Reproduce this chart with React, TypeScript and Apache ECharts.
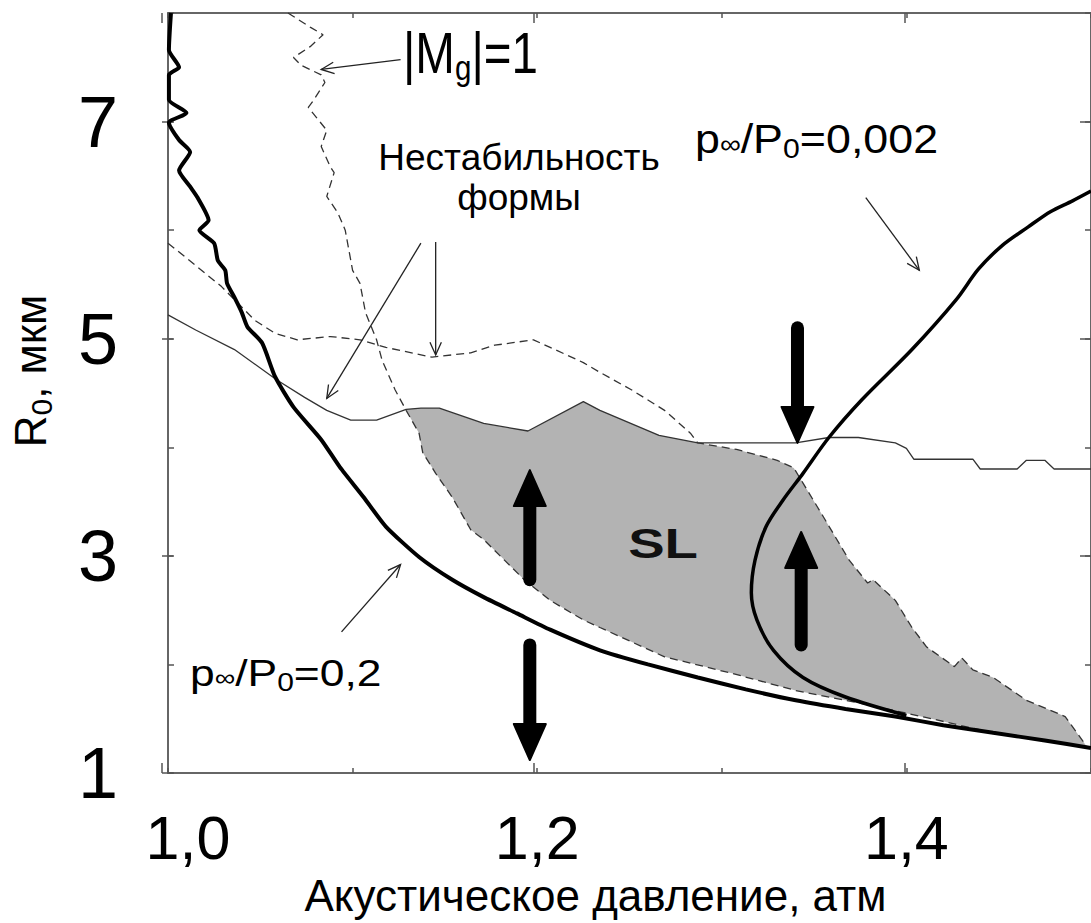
import React, { useEffect, useRef } from "react";
import * as echarts from "echarts";

const FONT = "'Liberation Sans', Arial, Helvetica, sans-serif";

// axis ticks / labels
const xMin = 1.0;
const xMax = 1.5;
const yMin = 1;
const yMax = 8;
const xLabelTicks = [1.0, 1.2, 1.4];
const yLabelTicks = [1, 3, 5, 7];

// p∞/P0 = 0,2 (thick)
const curve02: number[][] = [
  [1.0016, 8.0], [1.0005, 7.66], [1.006, 7.5], [1.0005, 7.43], [1.0005, 7.2], [1.010, 7.08],
  [1.0005, 6.99], [1.006, 6.83], [1.012, 6.72], [1.006, 6.55], [1.012, 6.4], [1.016, 6.3],
  [1.022, 6.09], [1.017, 6.0], [1.025, 5.88], [1.027, 5.72], [1.031, 5.63], [1.032, 5.51],
  [1.036, 5.38], [1.04, 5.24], [1.043, 5.11], [1.051, 4.96], [1.058, 4.65], [1.068, 4.37],
  [1.083, 4.07], [1.093, 3.82], [1.106, 3.54], [1.118, 3.27], [1.136, 2.99], [1.154, 2.78],
  [1.171, 2.62], [1.189, 2.47], [1.207, 2.32], [1.234, 2.13], [1.26, 2.0], [1.287, 1.88],
  [1.313, 1.77], [1.34, 1.67], [1.367, 1.59], [1.394, 1.52], [1.42, 1.44], [1.447, 1.37],
  [1.475, 1.3], [1.5, 1.23],
];

// p∞/P0 = 0,002 (thick, C-shaped)
const curve0002: number[][] = [
  [1.5, 6.36], [1.49, 6.27], [1.478, 6.17], [1.466, 6.03], [1.452, 5.86], [1.439, 5.64],
  [1.427, 5.36], [1.403, 4.9], [1.376, 4.44], [1.358, 4.09], [1.344, 3.76], [1.333, 3.51],
  [1.324, 3.27], [1.318, 2.96], [1.316, 2.66], [1.319, 2.41], [1.328, 2.13], [1.344, 1.88],
  [1.367, 1.7], [1.4, 1.53],
];

// shape instability, thin solid
const instabSolid: number[][] = [
  [1.0, 5.22], [1.015, 5.08], [1.036, 4.9], [1.059, 4.62], [1.074, 4.46], [1.086, 4.34],
  [1.099, 4.25], [1.113, 4.25], [1.129, 4.35], [1.137, 4.36], [1.147, 4.36], [1.171, 4.22],
  [1.195, 4.15], [1.225, 4.42], [1.234, 4.34], [1.266, 4.11], [1.287, 4.04], [1.317, 4.04],
  [1.34, 4.04], [1.358, 4.09], [1.374, 4.09], [1.394, 4.04], [1.4, 3.99], [1.404, 3.89],
  [1.436, 3.89], [1.44, 3.8], [1.46, 3.8], [1.465, 3.88], [1.475, 3.88], [1.48, 3.8], [1.5, 3.8],
];

// shape instability, dashed (left part)
const instabDashed: number[][] = [
  [1.0, 5.88], [1.011, 5.73], [1.029, 5.48], [1.047, 5.17], [1.058, 5.05], [1.07, 4.99],
  [1.088, 5.02], [1.104, 4.99], [1.118, 4.92], [1.143, 4.83], [1.164, 4.87], [1.177, 4.94],
  [1.198, 4.99], [1.207, 4.92], [1.225, 4.78], [1.234, 4.69], [1.251, 4.53], [1.269, 4.34],
  [1.283, 4.13], [1.287, 4.04],
];

// dashed boundary of SL region (right side)
const slRightEdge: number[][] = [
  [1.308, 3.98], [1.33, 3.88], [1.339, 3.81], [1.344, 3.67], [1.355, 3.36], [1.369, 2.96],
  [1.379, 2.75], [1.382, 2.78], [1.394, 2.59], [1.403, 2.34], [1.411, 2.16], [1.426, 1.98],
  [1.43, 2.06], [1.436, 1.95], [1.447, 1.88], [1.465, 1.67], [1.486, 1.52], [1.497, 1.26],
];

// |Mg| = 1 (dashed)
const machOne: number[][] = [
  [1.065, 8.0], [1.077, 7.87], [1.084, 7.8], [1.077, 7.69], [1.068, 7.59], [1.072, 7.52],
  [1.083, 7.43], [1.085, 7.36], [1.079, 7.2], [1.076, 7.13], [1.086, 6.92], [1.083, 6.77],
  [1.088, 6.58], [1.09, 6.53], [1.086, 6.31], [1.092, 6.16], [1.096, 6.0], [1.1, 5.63],
  [1.104, 5.51], [1.107, 5.24], [1.113, 4.99], [1.116, 4.8], [1.123, 4.53], [1.129, 4.34],
  [1.136, 4.13], [1.138, 3.95], [1.145, 3.76], [1.154, 3.54], [1.164, 3.24], [1.171, 3.15],
  [1.193, 2.78], [1.207, 2.59], [1.225, 2.41], [1.234, 2.34], [1.269, 2.07], [1.305, 1.92],
  [1.34, 1.76], [1.376, 1.64], [1.411, 1.51], [1.447, 1.37],
];

// thick arrows: [x, from, to]
const bigArrows: number[][] = [
  [1.196, 2.78, 3.79],
  [1.196, 2.18, 1.12],
  [1.341, 5.1, 4.04],
  [1.343, 2.18, 3.22],
];

// thin pointer arrows: [x1, y1, x2(tip), y2(tip)]
const pointers: number[][] = [
  [1.126, 7.57, 1.083, 7.48],
  [1.137, 5.88, 1.086, 4.45],
  [1.145, 5.89, 1.145, 4.85],
  [1.378, 6.3, 1.407, 5.63],
  [1.094, 2.3, 1.126, 2.92],
];

// SL region polygon, built from the boundary curves
const slTop = instabSolid.filter((p) => p[0] >= 1.129 && p[0] <= 1.287).concat(slRightEdge);
const slBottom = machOne.filter((p) => p[0] >= 1.129).concat(curve02.filter((p) => p[0] > 1.447));
const slPolygon = slTop.concat(slBottom.slice().reverse());

const fmtX = (v: number) => v.toFixed(1).replace(".", ",");

function buildOption(): any {
  const axisLineStyle = { color: "#666", width: 2 };
  const tickStyle = { color: "#555", width: 1.5 };
  const baseX = { type: "value", min: xMin, max: xMax, splitLine: { show: false } };
  const baseY = { type: "value", min: yMin, max: yMax, splitLine: { show: false } };
  return {
    animation: false,
    backgroundColor: "#fff",
    grid: [
      { left: 162, top: 13, right: -8.5, bottom: 150, containLabel: false },
      { left: 162, top: 13, right: -8.5, bottom: 150, containLabel: false },
    ],
    xAxis: [
      {
        ...baseX,
        gridIndex: 0,
        position: "bottom",
        interval: 0.1,
        axisLine: { show: true, lineStyle: axisLineStyle },
        axisTick: { show: true, inside: true, length: 5, lineStyle: tickStyle },
        axisLabel: {
          show: true,
          customValues: xLabelTicks,
          margin: 34,
          color: "#000",
          fontFamily: FONT,
          fontSize: 61,
          formatter: (v: number) =>
            Math.abs(v - xLabelTicks[0]) < 1e-6 ? `{f|${fmtX(v)}}` : `{n|${fmtX(v)}}`,
          rich: {
            f: { fontSize: 61, fontFamily: FONT, color: "#000", padding: [0, 0, 0, 40] },
            n: { fontSize: 61, fontFamily: FONT, color: "#000" },
          },
        },
        name: "Акустическое давление, атм",
        nameLocation: "middle",
        nameGap: 100,
        nameTextStyle: { fontSize: 44, fontFamily: FONT, color: "#000", padding: [0, 68, 0, 0] },
      },
      {
        ...baseX,
        gridIndex: 0,
        position: "top",
        interval: 0.1,
        axisLine: { show: true, lineStyle: axisLineStyle },
        axisTick: { show: true, inside: true, length: 5, lineStyle: tickStyle },
        axisLabel: { show: false },
      },
      {
        ...baseX,
        gridIndex: 1,
        position: "bottom",
        axisLine: { show: false },
        axisTick: { show: true, inside: true, length: 10, customValues: xLabelTicks, lineStyle: tickStyle },
        axisLabel: { show: false },
      },
      {
        ...baseX,
        gridIndex: 1,
        position: "top",
        axisLine: { show: false },
        axisTick: { show: true, inside: true, length: 10, customValues: xLabelTicks, lineStyle: tickStyle },
        axisLabel: { show: false },
      },
    ],
    yAxis: [
      {
        ...baseY,
        gridIndex: 0,
        position: "left",
        interval: 1,
        axisLine: { show: true, lineStyle: axisLineStyle },
        axisTick: { show: true, inside: true, length: 6, lineStyle: tickStyle },
        axisLabel: {
          show: true,
          customValues: yLabelTicks,
          formatter: (v: number) => (yLabelTicks.indexOf(v) >= 0 ? String(v) : ""),
          margin: 50,
          color: "#000",
          fontFamily: FONT,
          fontSize: 72,
        },
        name: "{r|R}{s|0}{r|, мкм}",
        nameLocation: "middle",
        nameRotate: 90,
        nameGap: 112,
        nameTextStyle: {
          padding: [0, 0, 0, 44],
          rich: {
            r: { fontSize: 44, fontFamily: FONT, color: "#000" },
            s: { fontSize: 30, fontFamily: FONT, color: "#000", padding: [22, 0, 0, 0] },
          },
        },
      },
      {
        ...baseY,
        gridIndex: 0,
        position: "right",
        interval: 1,
        axisLine: { show: true, lineStyle: axisLineStyle },
        axisTick: { show: true, inside: true, length: 6, lineStyle: tickStyle },
        axisLabel: { show: false },
      },
      {
        ...baseY,
        gridIndex: 1,
        position: "left",
        axisLine: { show: false },
        axisTick: { show: true, inside: true, length: 11, customValues: yLabelTicks, lineStyle: tickStyle },
        axisLabel: { show: false },
      },
      {
        ...baseY,
        gridIndex: 1,
        position: "right",
        axisLine: { show: false },
        axisTick: { show: true, inside: true, length: 11, customValues: yLabelTicks, lineStyle: tickStyle },
        axisLabel: { show: false },
      },
    ],
    series: [
      {
        name: "SL",
        type: "custom",
        xAxisIndex: 0,
        yAxisIndex: 0,
        z: 1,
        silent: true,
        data: [slPolygon[0]],
        renderItem: (_params: any, api: any) => ({
          type: "polygon",
          shape: { points: slPolygon.map((p) => api.coord(p)) },
          style: { fill: "#b3b3b3", stroke: "none" },
        }),
      },
      {
        name: "p∞/P0=0,2",
        type: "line",
        data: curve02,
        showSymbol: false,
        smooth: 0.2,
        z: 3,
        lineStyle: { color: "#000", width: 4 },
      },
      {
        name: "p∞/P0=0,002",
        type: "line",
        data: curve0002,
        showSymbol: false,
        smooth: 0.3,
        z: 3,
        lineStyle: { color: "#000", width: 3.5 },
      },
      {
        name: "Нестабильность формы (сплошная)",
        type: "line",
        data: instabSolid,
        showSymbol: false,
        z: 2,
        lineStyle: { color: "#333", width: 1.3 },
      },
      {
        name: "Нестабильность формы (штрих)",
        type: "line",
        data: instabDashed.concat(slRightEdge),
        showSymbol: false,
        z: 2,
        lineStyle: { color: "#333", width: 1.3, type: [8, 5] },
      },
      {
        name: "|Mg|=1",
        type: "line",
        data: machOne,
        showSymbol: false,
        z: 2,
        lineStyle: { color: "#333", width: 1.3, type: [8, 5] },
      },
      {
        name: "arrows",
        type: "custom",
        z: 4,
        silent: true,
        data: bigArrows,
        encode: { x: 0, y: [1, 2] },
        renderItem: (_params: any, api: any) => {
          const x = api.value(0);
          const p0 = api.coord([x, api.value(1)]);
          const p1 = api.coord([x, api.value(2)]);
          const dir = p1[1] > p0[1] ? 1 : -1;
          const headLen = 36;
          const headW = 16;
          const baseY = p1[1] - dir * headLen;
          return {
            type: "group",
            children: [
              {
                type: "line",
                shape: { x1: p0[0], y1: p0[1], x2: p1[0], y2: baseY + dir * 4 },
                style: { stroke: "#000", lineWidth: 13, lineCap: "round" },
              },
              {
                type: "polygon",
                shape: { points: [[p1[0] - headW, baseY], [p1[0] + headW, baseY], [p1[0], p1[1]]] },
                style: { fill: "#000", stroke: "#000", lineWidth: 2, lineJoin: "round" },
              },
            ],
          };
        },
      },
      {
        name: "pointers",
        type: "custom",
        z: 4,
        silent: true,
        data: pointers,
        encode: { x: [0, 2], y: [1, 3] },
        renderItem: (_params: any, api: any) => {
          const a = api.coord([api.value(0), api.value(1)]);
          const b = api.coord([api.value(2), api.value(3)]);
          const ang = Math.atan2(b[1] - a[1], b[0] - a[0]);
          const L = 14;
          const spread = 0.42;
          const h1 = [b[0] - L * Math.cos(ang - spread), b[1] - L * Math.sin(ang - spread)];
          const h2 = [b[0] - L * Math.cos(ang + spread), b[1] - L * Math.sin(ang + spread)];
          const st = { stroke: "#222", lineWidth: 1.3, fill: "none" };
          return {
            type: "group",
            children: [
              { type: "line", shape: { x1: a[0], y1: a[1], x2: b[0], y2: b[1] }, style: st },
              { type: "polyline", shape: { points: [h1, b, h2] }, style: st },
            ],
          };
        },
      },
    ],
    graphic: [
      {
        type: "text",
        x: 403,
        y: 53,
        scaleX: 0.82,
        z: 10,
        style: {
          text: "{a||M}{s|g}{a||=1}",
          align: "left",
          verticalAlign: "middle",
          rich: {
            a: { fontSize: 58, fontFamily: FONT, fill: "#000" },
            s: { fontSize: 36, fontFamily: FONT, fill: "#000", padding: [28, 0, 0, 0] },
          },
        },
      },
      {
        type: "text",
        x: 519,
        y: 157,
        z: 10,
        style: { text: "Нестабильность", fontSize: 37, fontFamily: FONT, fill: "#000", align: "center", verticalAlign: "middle" },
      },
      {
        type: "text",
        x: 519,
        y: 197,
        z: 10,
        style: { text: "формы", fontSize: 37, fontFamily: FONT, fill: "#000", align: "center", verticalAlign: "middle" },
      },
      {
        type: "text",
        x: 695,
        y: 139,
        scaleX: 1.12,
        z: 10,
        style: {
          text: "{a|p}{i|∞}{a|/P}{s|0}{a|=0,002}",
          align: "left",
          verticalAlign: "middle",
          rich: {
            a: { fontSize: 40, fontFamily: FONT, fill: "#000" },
            i: { fontSize: 26, fontFamily: FONT, fill: "#000", padding: [10, 0, 0, 0] },
            s: { fontSize: 27, fontFamily: FONT, fill: "#000", padding: [20, 0, 0, 0] },
          },
        },
      },
      {
        type: "text",
        x: 190,
        y: 673,
        scaleX: 1.2,
        z: 10,
        style: {
          text: "{a|p}{i|∞}{a|/P}{s|0}{a|=0,2}",
          align: "left",
          verticalAlign: "middle",
          rich: {
            a: { fontSize: 37, fontFamily: FONT, fill: "#000" },
            i: { fontSize: 24, fontFamily: FONT, fill: "#000", padding: [9, 0, 0, 0] },
            s: { fontSize: 25, fontFamily: FONT, fill: "#000", padding: [18, 0, 0, 0] },
          },
        },
      },
      {
        type: "text",
        x: 663,
        y: 543,
        scaleX: 1.3,
        z: 10,
        style: { text: "SL", fontSize: 42, fontWeight: "bold", fontFamily: FONT, fill: "#111", align: "center", verticalAlign: "middle" },
      },
    ],
  };
}

export default function App() {
  const ref = useRef<HTMLDivElement>(null);
  useEffect(() => {
    document.body.style.margin = "0";
    const chart = echarts.init(ref.current as HTMLDivElement, null, { renderer: "svg" });
    chart.setOption(buildOption());
    return () => chart.dispose();
  }, []);
  return (
    <div
      ref={ref}
      style={{ position: "absolute", left: 0, top: 0, width: 1091, height: 923, overflow: "hidden", background: "#fff" }}
    />
  );
}
